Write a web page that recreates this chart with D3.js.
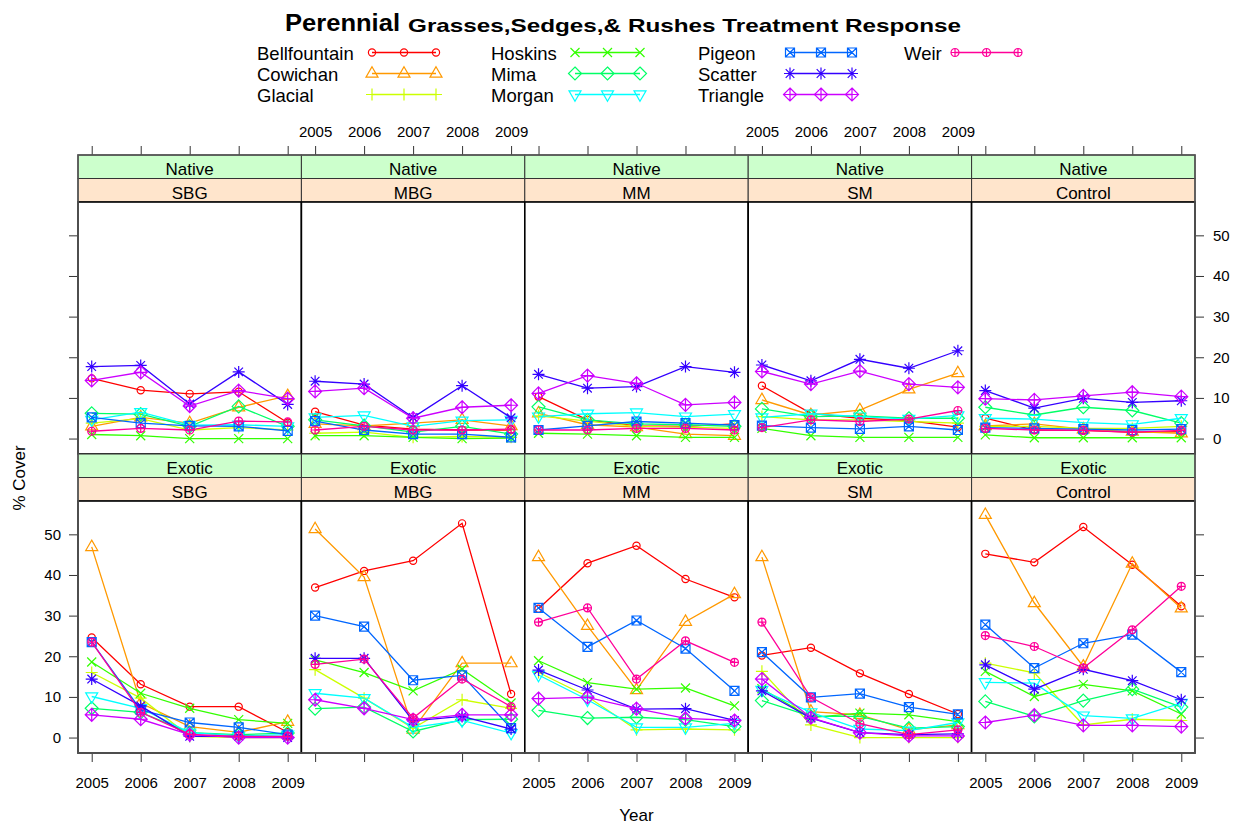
<!DOCTYPE html>
<html>
<head>
<meta charset="utf-8">
<script src="https://cdn.jsdelivr.net/npm/d3@7"></script>
<style>
  body { margin: 0; background: #fff; }
  svg text { font-family: "Liberation Sans", Arial, sans-serif; }
</style>
</head>
<body>
<svg id="chart" width="1236" height="824"></svg>
<script>
// data (% cover), one row per site, columns 2005..2009
var years = [2005, 2006, 2007, 2008, 2009];
var sites = ["Bellfountain", "Cowichan", "Glacial", "Hoskins", "Mima", "Morgan", "Pigeon", "Scatter", "Triangle", "Weir"];
var treatments = ["SBG", "MBG", "MM", "SM", "Control"];
var origins = ["Native", "Exotic"];
var yTicks = [0, 10, 20, 30, 40, 50];

var nativeSBG = [
  [14.8, 11.9, 11.0, 11.5, 3.9],
  [3.0, 5.2, 3.8, 7.7, 10.5],
  [3.8, 4.9, 2.1, 2.7, 2.1],
  [1.0, 0.7, 0.0, 0.0, 0.0],
  [6.2, 6.0, 3.0, 7.9, 3.0],
  [4.6, 6.5, 3.3, 3.4, 3.0],
  [5.2, 3.8, 3.1, 3.0, 1.9],
  [17.7, 18.0, 8.5, 16.4, 8.4],
  [14.3, 16.3, 8.0, 11.8, 9.8],
  [1.8, 2.5, 2.1, 4.3, 4.1]
];
var nativeMBG = [
  [6.6, 3.3, 2.3, 2.1, 2.1],
  [3.6, 3.1, 3.8, 4.6, 3.1],
  [1.3, 1.6, 0.3, 0.5, 0.3],
  [0.7, 0.7, 0.3, 0.0, 0.1],
  [4.6, 3.1, 1.6, 3.0, 1.1],
  [5.2, 5.7, 3.0, 4.4, 4.6],
  [4.3, 2.1, 1.1, 1.1, 0.3],
  [14.1, 13.4, 5.2, 13.0, 5.1],
  [11.6, 12.4, 5.0, 7.7, 8.2],
  [2.1, 3.0, 2.1, 2.1, 2.3]
];
var nativeMM = [
  [10.3, 4.6, 3.1, 3.0, 3.6],
  [6.2, 3.4, 2.8, 1.1, 0.7],
  [5.6, 4.3, 3.0, 2.8, 2.5],
  [1.3, 1.1, 0.7, 0.3, 0.3],
  [7.8, 4.6, 3.6, 3.4, 3.0],
  [5.4, 6.1, 6.4, 5.4, 6.0],
  [2.1, 3.1, 4.2, 3.8, 3.3],
  [15.8, 12.4, 12.8, 17.7, 16.3],
  [11.1, 15.5, 13.6, 8.3, 8.9],
  [2.1, 2.1, 2.5, 2.5, 2.1]
];
var nativeSM = [
  [13.0, 6.2, 5.0, 4.4, 2.8],
  [9.5, 5.8, 7.0, 12.1, 16.1],
  [5.4, 4.6, 4.6, 4.2, 3.8],
  [2.5, 0.7, 0.3, 0.3, 0.3],
  [7.3, 5.4, 5.6, 5.0, 5.0],
  [5.2, 6.1, 5.4, 4.8, 5.7],
  [3.2, 2.7, 2.4, 3.0, 2.1],
  [18.1, 14.2, 19.5, 17.3, 21.6],
  [16.5, 13.4, 16.6, 13.4, 12.6],
  [2.7, 4.6, 4.2, 4.8, 6.9]
];
var nativeControl = [
  [5.0, 2.1, 2.0, 1.5, 1.7],
  [3.1, 3.6, 2.3, 1.7, 1.3],
  [3.0, 3.0, 2.5, 2.5, 3.0],
  [0.9, 0.2, 0.2, 0.2, 0.2],
  [7.7, 5.8, 7.7, 6.9, 3.8],
  [5.0, 4.8, 3.9, 3.5, 5.0],
  [2.7, 2.5, 2.3, 2.1, 2.3],
  [11.8, 7.5, 9.9, 8.9, 9.3],
  [9.8, 9.5, 10.5, 11.4, 10.3],
  [2.5, 2.1, 2.0, 1.6, 2.0]
];
var exoticSBG = [
  [24.6, 13.1, 7.6, 7.6, 1.3],
  [46.9, 8.5, 2.7, 1.3, 3.9],
  [16.0, 9.7, 0.3, 0.0, 0.0],
  [18.6, 10.9, 7.2, 4.4, 3.5],
  [7.2, 6.2, 1.2, 0.7, 1.1],
  [10.1, 7.2, 1.2, 0.4, 0.7],
  [23.5, 6.8, 3.7, 2.5, 0.7],
  [14.4, 7.8, 0.3, 0.3, 0.0],
  [5.6, 4.5, 0.7, 0.0, 0.0],
  [23.5, 6.2, 0.8, 0.3, 0.3]
];
var exoticMBG = [
  [36.9, 41.0, 43.5, 52.7, 10.7],
  [51.3, 39.5, 2.0, 18.3, 18.3],
  [16.7, 9.7, 2.3, 9.3, 7.2],
  [19.1, 16.0, 11.5, 16.8, 8.5],
  [7.1, 7.5, 1.5, 4.4, 4.5],
  [10.9, 9.7, 2.5, 4.2, 1.1],
  [30.0, 27.3, 14.1, 15.3, 2.3],
  [19.5, 19.5, 4.1, 5.2, 2.1],
  [9.3, 7.2, 4.4, 5.6, 5.6],
  [18.0, 19.3, 4.8, 14.4, 7.6]
];
var exoticMM = [
  [31.7, 42.9, 47.2, 39.0, 34.5],
  [44.4, 27.5, 11.7, 28.5, 35.3],
  [16.0, 10.1, 1.9, 2.1, 1.9],
  [18.9, 13.5, 11.9, 12.2, 7.8],
  [6.7, 4.8, 5.0, 4.4, 2.7],
  [15.4, 9.3, 2.5, 2.5, 3.5],
  [31.9, 22.3, 28.8, 21.9, 11.5],
  [16.6, 11.7, 7.0, 7.1, 4.2],
  [9.6, 9.9, 7.1, 4.7, 4.2],
  [28.4, 31.9, 14.4, 23.8, 18.5]
];
var exoticSM = [
  [20.2, 22.1, 15.8, 10.7, 5.8],
  [44.4, 6.4, 5.6, 1.9, 3.1],
  [16.3, 3.1, 0.0, 0.0, 0.0],
  [12.0, 4.9, 6.0, 5.6, 3.9],
  [9.1, 5.2, 5.2, 2.3, 2.7],
  [11.7, 6.2, 2.1, 1.7, 3.7],
  [21.0, 9.9, 10.8, 7.5, 5.7],
  [11.5, 4.8, 1.2, 0.7, 0.9],
  [14.4, 4.9, 1.2, 0.4, 0.4],
  [28.4, 9.9, 3.4, 0.7, 1.9]
];
var exoticControl = [
  [45.2, 43.1, 51.8, 42.5, 32.3],
  [54.8, 33.1, 17.5, 42.8, 31.8],
  [18.3, 15.9, 3.1, 4.5, 4.2],
  [16.3, 10.1, 13.1, 11.5, 5.8],
  [8.9, 5.2, 9.1, 11.9, 7.5],
  [13.6, 13.4, 5.4, 4.7, 8.5],
  [27.8, 17.1, 23.2, 25.3, 16.1],
  [17.9, 11.9, 16.8, 14.0, 9.3],
  [3.7, 5.5, 3.0, 3.0, 2.7],
  [25.1, 22.4, 17.1, 26.5, 37.2]
];

var panelData = {
  Native: [nativeSBG, nativeMBG, nativeMM, nativeSM, nativeControl],
  Exotic: [exoticSBG, exoticMBG, exoticMM, exoticSM, exoticControl]
};

var colors = ["#FF0000", "#FF9900", "#CCFF00", "#33FF00", "#00FF66",
              "#00FFFF", "#0066FF", "#3300FF", "#CC00FF", "#FF0099"];

var svg = d3.select("#chart");

var left = 78, colW = 223.4, stripH = 23.5, panelH = 252;
var rowTop = [155, 454];  // top of the strips for each row
var tickLen = 9;
var tickFont = "15px";

var x = d3.scaleLinear().domain([2004.72, 2009.28]).range([0, colW]);
var y = d3.scaleLinear().domain([-3.8, 58.2]).range([panelH, 0]);

// point symbols in the style of R pch 1..10
function symbol(g, k, cx, cy, col) {
  var s = g.append("g").attr("transform", "translate(" + cx + "," + cy + ")")
    .attr("fill", "none").attr("stroke", col).attr("stroke-width", 1.2);
  if (k === 0) s.append("circle").attr("r", 3.6);
  if (k === 1) s.append("path").attr("d", "M0,-6.8L6,3.6L-6,3.6Z");
  if (k === 2) s.append("path").attr("d", "M-6,0H6M0,-6V6");
  if (k === 3) s.append("path").attr("d", "M-4.5,-4.5L4.5,4.5M-4.5,4.5L4.5,-4.5");
  if (k === 4) s.append("path").attr("d", "M0,-6.5L6.5,0L0,6.5L-6.5,0Z");
  if (k === 5) s.append("path").attr("d", "M0,6.8L6,-3.6L-6,-3.6Z");
  if (k === 6) s.append("path").attr("d", "M-4.5,-4.5H4.5V4.5H-4.5ZM-4.5,-4.5L4.5,4.5M-4.5,4.5L4.5,-4.5");
  if (k === 7) s.append("path").attr("d", "M-6,0H6M0,-6V6M-4.3,-4.3L4.3,4.3M-4.3,4.3L4.3,-4.3");
  if (k === 8) s.append("path").attr("d", "M0,-6.5L6.5,0L0,6.5L-6.5,0ZM-6.5,0H6.5M0,-6.5V6.5");
  if (k === 9) s.append("path").attr("d", "M0,-4A4,4 0 1,1 0,4A4,4 0 1,1 0,-4ZM-4,0H4M0,-4V4");
}

var line = d3.line().x(function (d, i) { return x(years[i]); }).y(function (d) { return y(d); });
var blank = function () { return ""; };

function styleAxis(a) {
  a.select(".domain").remove();
  a.selectAll("line").attr("stroke", "#333");
  a.selectAll("text").style("font-size", tickFont).attr("fill", "#000");
  return a;
}

origins.forEach(function (origin, r) {
  var sTop = rowTop[r];
  var pTop = sTop + 2 * stripH;
  treatments.forEach(function (tr, c) {
    var px = left + c * colW;

    // strips
    svg.append("rect").attr("x", px).attr("y", sTop).attr("width", colW).attr("height", stripH)
      .attr("fill", "#CCFFCC").attr("stroke", "#333").attr("stroke-width", 1);
    svg.append("rect").attr("x", px).attr("y", sTop + stripH).attr("width", colW).attr("height", stripH)
      .attr("fill", "#FFE5CC").attr("stroke", "#333").attr("stroke-width", 1);
    svg.append("text").attr("x", px + colW / 2).attr("y", sTop + 20)
      .attr("text-anchor", "middle").style("font-size", "17px").text(origin);
    svg.append("text").attr("x", px + colW / 2).attr("y", sTop + stripH + 20)
      .attr("text-anchor", "middle").style("font-size", "17px").text(tr);

    var g = svg.append("g").attr("transform", "translate(" + px + "," + pTop + ")");
    g.append("rect").attr("width", colW).attr("height", panelH)
      .attr("fill", "#fff").attr("stroke", "#000").attr("stroke-width", 1.6);

    var clip = "clip" + r + c;
    g.append("clipPath").attr("id", clip).append("rect").attr("width", colW).attr("height", panelH);
    var plot = g.append("g").attr("clip-path", "url(#" + clip + ")");

    panelData[origin][c].forEach(function (vals, k) {
      plot.append("path").datum(vals).attr("d", line)
        .attr("fill", "none").attr("stroke", colors[k]).attr("stroke-width", 1.3);
      vals.forEach(function (v, i) { symbol(plot, k, x(years[i]), y(v), colors[k]); });
    });

    // x axis ticks: top on the first row, bottom on the last row
    if (r === 0) {
      var top = styleAxis(g.append("g").attr("transform", "translate(0," + (-2 * stripH) + ")")
        .call(d3.axisTop(x).tickValues(years).tickSize(tickLen).tickSizeOuter(0)
          .tickFormat(c % 2 === 1 ? d3.format("d") : blank)));
      top.selectAll("text").attr("dy", "-0.4em");
    } else {
      var bot = styleAxis(g.append("g").attr("transform", "translate(0," + panelH + ")")
        .call(d3.axisBottom(x).tickValues(years).tickSize(tickLen).tickSizeOuter(0)
          .tickFormat(c % 2 === 0 ? d3.format("d") : blank)));
      bot.selectAll("text").attr("dy", "1.55em");
    }

    // y axis ticks: left on the first column, right on the last column
    if (c === 0) {
      styleAxis(g.append("g").call(d3.axisLeft(y).tickValues(yTicks).tickSize(tickLen).tickSizeOuter(0)
        .tickFormat(r === 1 ? d3.format("d") : blank)))
        .selectAll("text").attr("x", -17);
    }
    if (c === treatments.length - 1) {
      styleAxis(g.append("g").attr("transform", "translate(" + colW + ",0)")
        .call(d3.axisRight(y).tickValues(yTicks).tickSize(tickLen).tickSizeOuter(0)
          .tickFormat(r === 0 ? d3.format("d") : blank)))
        .selectAll("text").attr("x", 18);
    }
  });
});

// outer frame
svg.append("rect").attr("x", left).attr("y", rowTop[0]).attr("width", colW * 5)
  .attr("height", rowTop[1] + 2 * stripH + panelH - rowTop[0])
  .attr("fill", "none").attr("stroke", "#555").attr("stroke-width", 1.6);

// axis titles
svg.append("text").attr("x", left + colW * 2.5).attr("y", 821).attr("text-anchor", "middle")
  .style("font-size", "17px").text("Year");
svg.append("text").attr("transform", "translate(25,478) rotate(-90)").attr("text-anchor", "middle")
  .style("font-size", "17px").text("% Cover");

// title: two parts set in different sizes
svg.append("text").attr("x", 285).attr("y", 31).style("font-weight", "bold").style("font-size", "23px")
  .attr("textLength", 115).attr("lengthAdjust", "spacingAndGlyphs").text("Perennial");
svg.append("text").attr("x", 408).attr("y", 32).style("font-weight", "bold").style("font-size", "19px")
  .attr("textLength", 553).attr("lengthAdjust", "spacingAndGlyphs")
  .text("Grasses,Sedges,& Rushes Treatment Response");

// legend, four columns of up to three sites
var legX = [257, 491, 698, 904];
var legLine = [[372, 436], [575, 640], [790, 852], [955, 1018]];
sites.forEach(function (s, k) {
  var col = Math.floor(k / 3), row = k % 3;
  var ly = 52.5 + row * 21;
  svg.append("text").attr("x", legX[col]).attr("y", ly + 7.5)
    .style("font-size", "18.5px").text(s);
  var x0 = legLine[col][0], x1 = legLine[col][1];
  svg.append("line").attr("x1", x0).attr("x2", x1).attr("y1", ly).attr("y2", ly)
    .attr("stroke", colors[k]).attr("stroke-width", 1.3);
  [x0, (x0 + x1) / 2, x1].forEach(function (xx) { symbol(svg, k, xx, ly, colors[k]); });
});
</script>
</body>
</html>
